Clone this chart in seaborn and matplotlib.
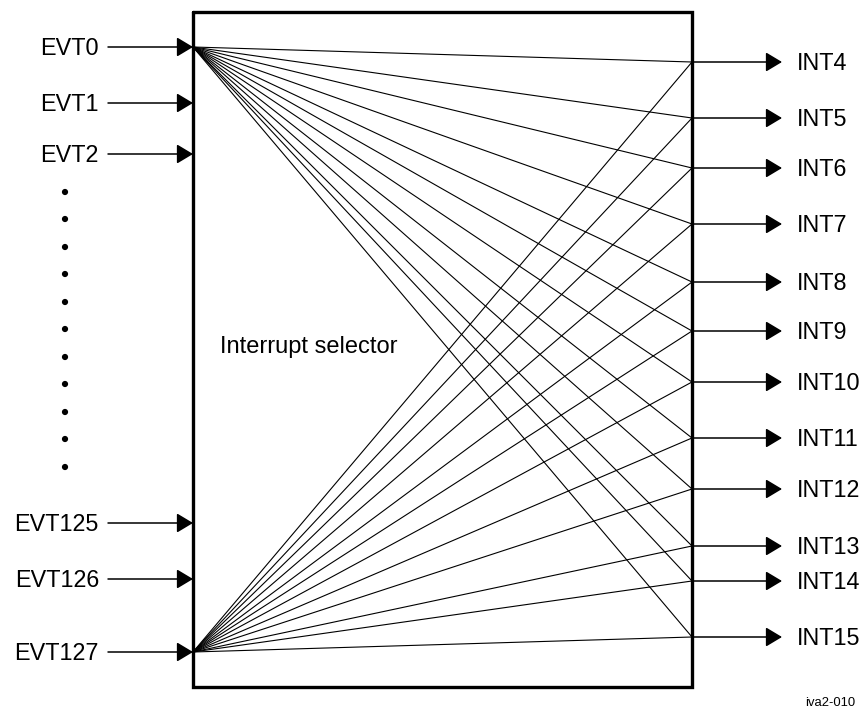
import numpy as np
import matplotlib.pyplot as plt
import seaborn as sns
import pandas as pd

# diagram positions in pixel space (y down)
evt_labels = ['EVT0', 'EVT1', 'EVT2', 'EVT125', 'EVT126', 'EVT127']
evt_y = [47, 103, 154, 523, 579, 652]
dot_y = [192, 219, 247, 274, 302, 329, 357, 384, 412, 439, 467]
int_labels = ['INT4', 'INT5', 'INT6', 'INT7', 'INT8', 'INT9', 'INT10',
              'INT11', 'INT12', 'INT13', 'INT14', 'INT15']
int_y = [62, 118, 168, 224, 282, 331, 382, 438, 489, 546, 581, 637]
fan_sources = ['EVT0', 'EVT127']

box_left, box_right, box_top, box_bottom = 193, 692, 12, 687

sns.set_style('white')
plt.rcParams['font.family'] = ['Liberation Sans', 'DejaVu Sans']
plt.rcParams['text.color'] = 'black'

fig = plt.figure(figsize=(8.64, 7.08), dpi=100)
ax = fig.add_axes([0, 0, 1, 1])
ax.set_xlim(0, 864)
ax.set_ylim(708, 0)
ax.axis('off')

# fan of connections from EVT0 / EVT127 to every INT output
rows = []
for src in fan_sources:
    sy = evt_y[evt_labels.index(src)]
    for lab, iy in zip(int_labels, int_y):
        rows.append({'link': f'{src}-{lab}', 'x': box_left, 'y': sy})
        rows.append({'link': f'{src}-{lab}', 'x': box_right, 'y': iy})
fan = pd.DataFrame(rows)
sns.lineplot(data=fan, x='x', y='y', units='link', estimator=None, sort=False,
             color='black', lw=0.8, ax=ax, legend=False)

# box
ax.plot([box_left, box_right, box_right, box_left, box_left],
        [box_top, box_top, box_bottom, box_bottom, box_top],
        color='black', lw=2.4, solid_joinstyle='miter')

arrow = dict(arrowstyle='-|>,head_length=10,head_width=6', mutation_scale=1,
             color='black', lw=1.1, shrinkA=0, shrinkB=0)

fs = 16.8
for lab, y in zip(evt_labels, evt_y):
    ax.annotate('', xy=(box_left, y), xytext=(108, y), arrowprops=arrow)
    ax.text(99, y + 8, lab, ha='right', va='baseline', fontsize=fs)

sns.scatterplot(x=[65] * len(dot_y), y=dot_y, color='black', s=20, ax=ax,
                edgecolor='none')

for lab, y in zip(int_labels, int_y):
    ax.annotate('', xy=(782, y), xytext=(box_right, y), arrowprops=arrow)
    ax.text(797, y + 8, lab, ha='left', va='baseline', fontsize=fs)

ax.text(220, 353, 'Interrupt selector', ha='left', va='baseline', fontsize=17)
ax.text(855, 706, 'iva2-010', ha='right', va='baseline', fontsize=9.4)

fig.savefig('out.png', dpi=100)
